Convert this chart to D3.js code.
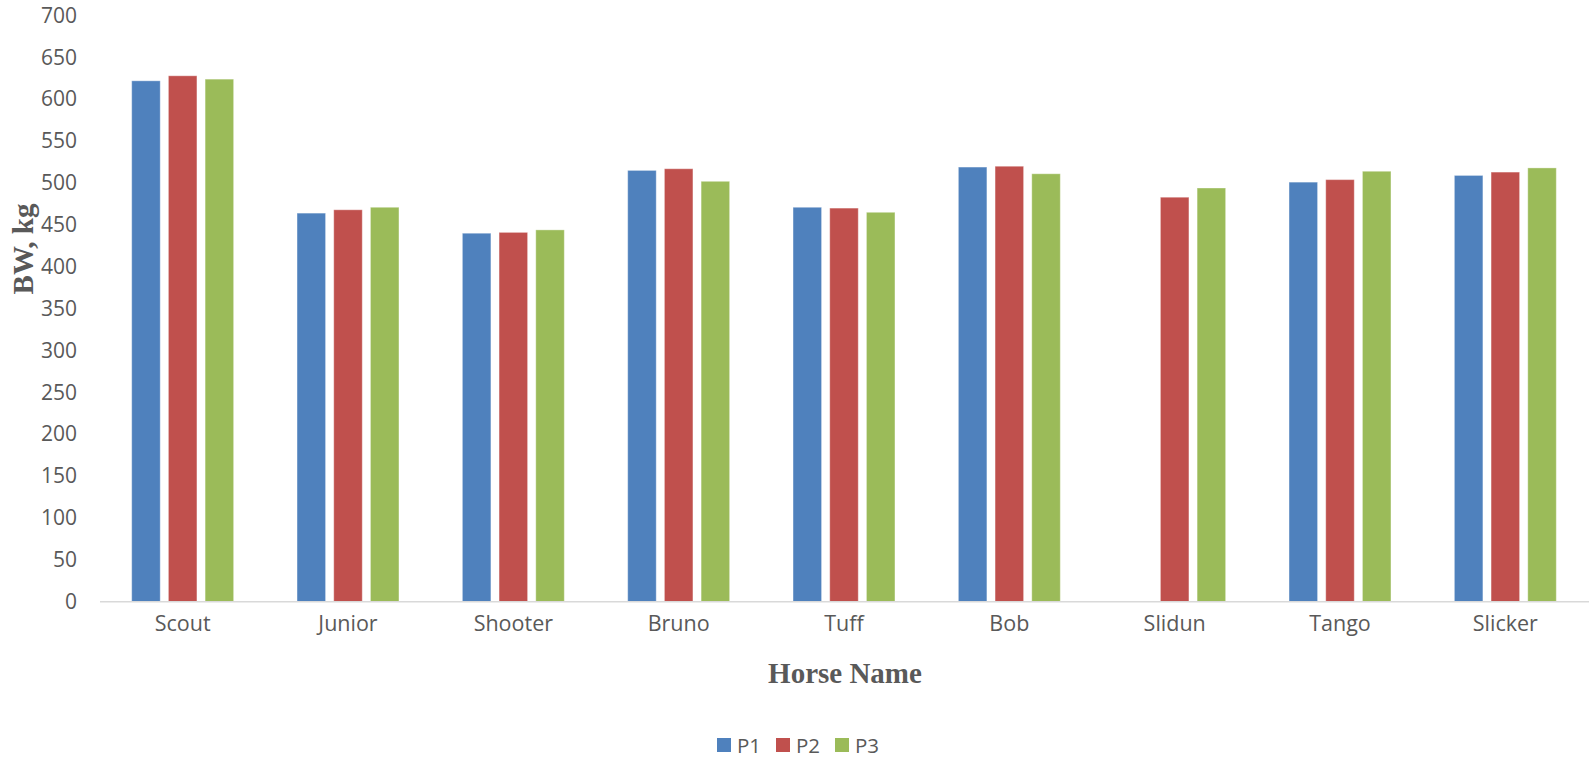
<!DOCTYPE html>
<html>
<head>
<meta charset="utf-8">
<script src="https://cdn.jsdelivr.net/npm/d3@7"></script>
<style>
  html, body { margin: 0; padding: 0; background: #fff; }
  svg { display: block; }
</style>
</head>
<body>
<svg id="chart" width="1589" height="759"></svg>
<script>
// Body weight (kg) of each horse at three periods
const horses = ["Scout", "Junior", "Shooter", "Bruno", "Tuff", "Bob", "Slidun", "Tango", "Slicker"];
const seriesNames = ["P1", "P2", "P3"];
const p1 = [622, 464, 440, 515, 471, 519, null, 501, 509];
const p2 = [628, 468, 441, 517, 470, 520, 483, 504, 513];
const p3 = [624, 471, 444, 502, 465, 511, 494, 514, 518];
const yTicks = [0, 50, 100, 150, 200, 250, 300, 350, 400, 450, 500, 550, 600, 650, 700];
const colors = ["#4F81BD", "#C0504D", "#9BBB59"];

const seriesValues = [p1, p2, p3];
const rows = horses.map((h, i) => ({
  name: h,
  values: seriesNames.map((s, k) => ({ key: s, value: seriesValues[k][i] }))
}));

const svg = d3.select("#chart");
const plotLeft = 100, plotRight = 1588, plotTop = 15.5, plotBottom = 601.7;

const x0 = d3.scaleBand().domain(horses).range([plotLeft, plotRight]).padding(0);
const x1 = d3.scaleBand().domain(seriesNames).range([0, x0.bandwidth()])
  .paddingInner(0.223).paddingOuter(0.864);
const y = d3.scaleLinear().domain([0, 700]).range([plotBottom, plotTop]);
const color = d3.scaleOrdinal().domain(seriesNames).range(colors);

const labelFont = "'Open Sans', 'Liberation Sans', sans-serif";

// Bars
const groups = svg.append("g").selectAll("g")
  .data(rows).join("g")
  .attr("transform", d => `translate(${x0(d.name)},0)`);

groups.selectAll("rect")
  .data(d => d.values.filter(v => v.value != null))
  .join("rect")
  .attr("x", d => x1(d.key))
  .attr("y", d => y(d.value))
  .attr("width", x1.bandwidth())
  .attr("height", d => y(0) - y(d.value))
  .attr("fill", d => color(d.key))
  .attr("stroke", "rgba(255,255,255,0.35)")
  .attr("stroke-width", 1);

// Y axis (labels only)
const yAxis = d3.axisLeft(y).tickValues(yTicks).tickSize(0).tickPadding(0);
const yg = svg.append("g").attr("transform", "translate(77,0)").call(yAxis);
yg.select(".domain").remove();
yg.selectAll("text")
  .attr("fill", "#595959")
  .style("font-family", labelFont)
  .style("font-size", "21px");

// X axis
const xAxis = d3.axisBottom(x0).tickSize(0).tickPadding(14);
const xg = svg.append("g").attr("transform", `translate(0,${plotBottom})`).call(xAxis);
xg.select(".domain").attr("stroke", "#D9D9D9").attr("stroke-width", 1.5)
  .attr("d", `M${plotLeft},0H${plotRight + 1}`);
xg.selectAll("text")
  .attr("fill", "#595959")
  .style("font-family", labelFont)
  .style("font-size", "21.5px");

// Axis titles
svg.append("text")
  .attr("x", 845).attr("y", 683)
  .attr("text-anchor", "middle")
  .attr("fill", "#595959")
  .style("font-family", "'Liberation Serif', 'Times New Roman', serif")
  .style("font-weight", "bold")
  .style("font-size", "29px")
  .text("Horse Name");

svg.append("text")
  .attr("transform", "translate(33,249) rotate(-90)")
  .attr("text-anchor", "middle")
  .attr("fill", "#595959")
  .style("font-family", "'Liberation Serif', 'Times New Roman', serif")
  .style("font-weight", "bold")
  .style("font-size", "29px")
  .text("BW, kg");

// Legend
const legend = svg.append("g").attr("transform", "translate(717,738)");
const item = legend.selectAll("g").data(seriesNames).join("g")
  .attr("transform", (d, i) => `translate(${i * 59},0)`);
item.append("rect")
  .attr("width", 14).attr("height", 14)
  .attr("fill", d => color(d));
item.append("text")
  .attr("x", 20).attr("y", 14.5)
  .attr("fill", "#595959")
  .style("font-family", labelFont)
  .style("font-size", "20.5px")
  .text(d => d);
</script>
</body>
</html>
